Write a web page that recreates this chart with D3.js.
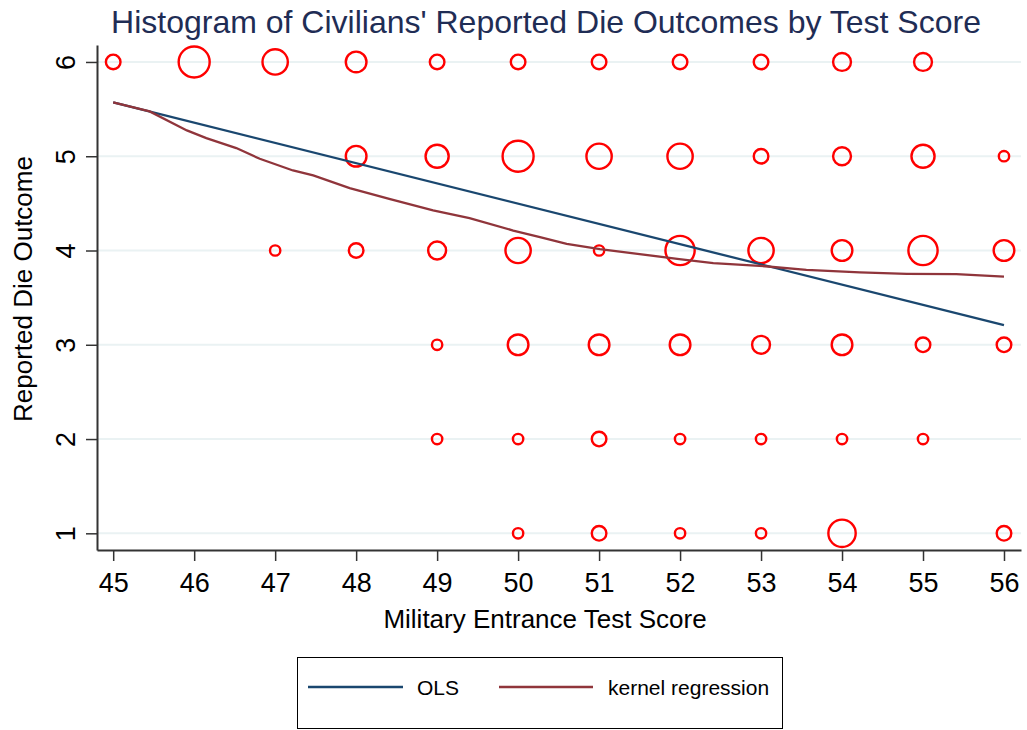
<!DOCTYPE html>
<html>
<head>
<meta charset="utf-8">
<script src="https://cdn.jsdelivr.net/npm/d3@7"></script>
<style>
  body { margin: 0; background: #fff; }
  text { font-family: "Liberation Sans", Arial, sans-serif; }
</style>
</head>
<body>
<div id="chart"></div>
<script>
// test scores on x, die outcomes on y
var scores = [45, 46, 47, 48, 49, 50, 51, 52, 53, 54, 55, 56];
var outcomes = [6, 5, 4, 3, 2, 1];

// frequency of each (score, outcome) pair, one row per outcome (0 = no marker)
var freq6 = [2, 9, 6, 4, 2, 2, 2, 2, 2, 3, 3, 0];
var freq5 = [0, 0, 0, 4, 5, 9, 6, 6, 2, 3, 5, 1];
var freq4 = [0, 0, 1, 2, 3, 6, 1, 8, 6, 4, 8, 4];
var freq3 = [0, 0, 0, 0, 1, 4, 4, 4, 3, 4, 2, 2];
var freq2 = [0, 0, 0, 0, 1, 1, 2, 1, 1, 1, 1, 0];
var freq1 = [0, 0, 0, 0, 0, 1, 2, 1, 1, 7, 0, 2];

// fitted lines
var olsX = [45, 56];
var olsY = [5.571, 3.208];
var kernX = [45.0, 45.45, 45.91, 46.15, 46.52, 46.81, 47.22, 47.47, 47.92, 48.42, 48.95, 49.40, 49.94, 50.27, 50.60, 51.01, 51.50, 51.99, 52.41, 52.98, 53.56, 54.22, 54.80, 55.41, 56.0];
var kernY = [5.571, 5.476, 5.274, 5.193, 5.087, 4.973, 4.849, 4.796, 4.662, 4.546, 4.425, 4.344, 4.212, 4.142, 4.071, 4.015, 3.962, 3.909, 3.866, 3.838, 3.795, 3.767, 3.753, 3.749, 3.724];

var xTicks = scores;
var yTicks = [1, 2, 3, 4, 5, 6];

var W = 1027, H = 730;
var plot = {left: 97, right: 1021, top: 45, bottom: 550};

var svg = d3.select("#chart").append("svg")
    .attr("width", W)
    .attr("height", H);

var x = d3.scaleLinear()
    .domain([44.8, 56.21])
    .range([plot.left, plot.right]);

var y = d3.scaleLinear()
    .domain([0.823, 6.18])
    .range([plot.bottom, plot.top]);

var r = d3.scaleSqrt()
    .domain([0, 9])
    .range([0, 15.5]);

// gridlines
svg.append("g")
  .selectAll("line")
  .data(yTicks)
  .enter().append("line")
    .attr("x1", plot.left)
    .attr("x2", plot.right)
    .attr("y1", function(d) { return y(d); })
    .attr("y2", function(d) { return y(d); })
    .attr("stroke", "#eaf2f3")
    .attr("stroke-width", 2);

// title
svg.append("text")
    .attr("x", 546)
    .attr("y", 33)
    .attr("text-anchor", "middle")
    .attr("font-size", 32)
    .attr("fill", "#1f2d55")
    .text("Histogram of Civilians' Reported Die Outcomes by Test Score");

// circles
var rows = [freq6, freq5, freq4, freq3, freq2, freq1];
var pts = [];
rows.forEach(function(row, i) {
  row.forEach(function(n, j) {
    if (n > 0) pts.push({score: scores[j], outcome: outcomes[i], n: n});
  });
});

svg.append("g")
  .selectAll("circle")
  .data(pts)
  .enter().append("circle")
    .attr("cx", function(d) { return x(d.score); })
    .attr("cy", function(d) { return y(d.outcome); })
    .attr("r", function(d) { return r(d.n); })
    .attr("fill", "none")
    .attr("stroke", "#ff0000")
    .attr("stroke-width", 2.4);

// lines
var line = d3.line()
    .x(function(d) { return x(d[0]); })
    .y(function(d) { return y(d[1]); });

svg.append("path")
    .datum(olsX.map(function(v, i) { return [v, olsY[i]]; }))
    .attr("d", line)
    .attr("fill", "none")
    .attr("stroke", "#1a476f")
    .attr("stroke-width", 2.3);

svg.append("path")
    .datum(kernX.map(function(v, i) { return [v, kernY[i]]; }))
    .attr("d", line)
    .attr("fill", "none")
    .attr("stroke", "#90353b")
    .attr("stroke-width", 2.3);

// axes
var xAxis = svg.append("g")
    .attr("transform", "translate(0," + plot.bottom + ")")
    .call(d3.axisBottom(x).tickValues(xTicks).tickSize(11).tickPadding(12).tickSizeOuter(0));

var yAxis = svg.append("g")
    .attr("transform", "translate(" + plot.left + ",0)")
    .call(d3.axisLeft(y).tickValues(yTicks).tickFormat(d3.format("d")).tickSize(11).tickSizeOuter(0));

[xAxis, yAxis].forEach(function(a) {
  a.select(".domain").attr("stroke", "#333").attr("stroke-width", 2);
  a.selectAll(".tick line").attr("stroke", "#333").attr("stroke-width", 1.5);
  a.selectAll(".tick text").attr("fill", "#000").attr("font-family", "Liberation Sans, Arial, sans-serif");
});

xAxis.selectAll(".tick text").attr("font-size", 27);

yAxis.selectAll(".tick text")
    .attr("font-size", 27)
    .attr("text-anchor", "middle")
    .attr("dy", 0)
    .attr("x", 0)
    .attr("transform", "translate(-22,0) rotate(-90)");

// axis titles
svg.append("text")
    .attr("x", 545)
    .attr("y", 628)
    .attr("text-anchor", "middle")
    .attr("font-size", 26)
    .text("Military Entrance Test Score");

svg.append("text")
    .attr("transform", "translate(32,289) rotate(-90)")
    .attr("text-anchor", "middle")
    .attr("font-size", 26)
    .text("Reported Die Outcome");

// legend
var legend = svg.append("g");
legend.append("rect")
    .attr("x", 297.5)
    .attr("y", 657.5)
    .attr("width", 485)
    .attr("height", 71)
    .attr("fill", "#fff")
    .attr("stroke", "#000")
    .attr("stroke-width", 1);

var legItems = [
  {label: "OLS", color: "#1a476f", x0: 308, x1: 403, tx: 417},
  {label: "kernel regression", color: "#90353b", x0: 499, x1: 593, tx: 608}
];
legItems.forEach(function(it) {
  legend.append("line")
      .attr("x1", it.x0).attr("x2", it.x1)
      .attr("y1", 687).attr("y2", 687)
      .attr("stroke", it.color)
      .attr("stroke-width", 2.3);
  legend.append("text")
      .attr("x", it.tx)
      .attr("y", 695)
      .attr("font-size", 21)
      .text(it.label);
});
</script>
</body>
</html>
